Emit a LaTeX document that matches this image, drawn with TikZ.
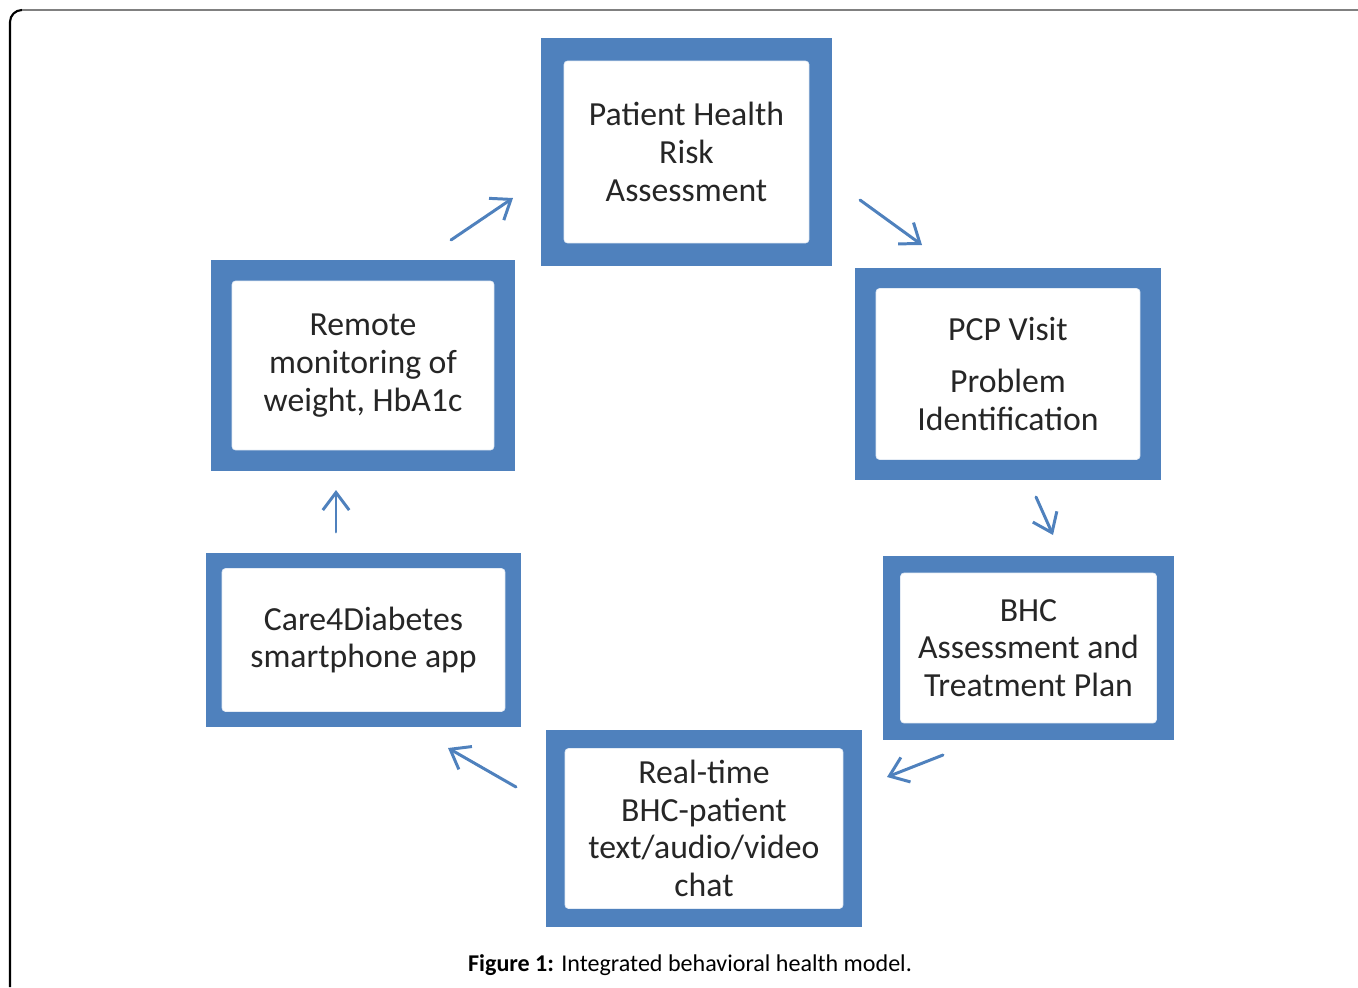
\documentclass[tikz,border=0pt]{standalone}
\usepackage{fontspec}
\setmainfont{Carlito}
\usetikzlibrary{arrows.meta}
\definecolor{boxblue}{HTML}{4F81BD}
\definecolor{framegray}{HTML}{808080}
\tikzset{
  outerbox/.style={fill=boxblue, inner sep=0pt},
  innerbox/.style={fill=white, draw=white!85!boxblue, line width=.4pt, rounded corners=2pt,
    inner sep=0pt, align=center, text=black!85, font=\fontsize{19.2}{21.5}\selectfont},
  cyclearrow/.style={draw=boxblue, line width=1.7pt, line cap=round,
    -{Straight Barb[length=10pt,width=15pt,line width=1.7pt]}}
}
\begin{document}
\begin{tikzpicture}[x=0.02cm,y=-0.02cm]
\useasboundingbox (0,0) rectangle (1358,987);
% frame
\draw[black, line width=1.2pt] (10,987) -- (10,22) arc[start angle=180,end angle=270,radius=12];
\draw[framegray, line width=1.2pt] (22,10) -- (1358,10);
% boxes
\node[outerbox, minimum width=5.82cm, minimum height=4.56cm] (risk) at (686.5,152) {};
\node[innerbox, minimum width=4.90cm, minimum height=3.64cm] (risktext) at (686.5,152)
  {Patient Health\\Risk\\Assessment};
\node[outerbox, minimum width=6.12cm, minimum height=4.24cm] (pcp) at (1008,374) {};
\node[innerbox, minimum width=5.28cm, minimum height=3.42cm] (pcptext) at (1008,374)
  {PCP Visit\\[8pt]Problem\\Identification};
\node[outerbox, minimum width=5.82cm, minimum height=3.68cm] (bhc) at (1028.5,648) {};
\node[innerbox, minimum width=5.12cm, minimum height=3.00cm] (bhctext) at (1028.5,648)
  {BHC\\Assessment and\\Treatment Plan};
\node[outerbox, minimum width=6.32cm, minimum height=3.94cm] (chat) at (704,828.5) {};
\node[innerbox, minimum width=5.56cm, minimum height=3.20cm] (chattext) at (704,828.5)
  {Real-time\\BHC-patient\\text/audio/video\\chat};
\node[outerbox, minimum width=6.30cm, minimum height=3.48cm] (app) at (363.5,640) {};
\node[innerbox, minimum width=5.66cm, minimum height=2.86cm] (apptext) at (363.5,640)
  {Care4Diabetes\\smartphone app};
\node[outerbox, minimum width=6.08cm, minimum height=4.22cm] (remote) at (363,365.5) {};
\node[innerbox, minimum width=5.24cm, minimum height=3.38cm] (remotetext) at (363,365.5)
  {Remote\\monitoring of\\weight, HbA1c};
% arrow ends
\coordinate (a1s) at (451,240); \coordinate (a1e) at (513,198);
\coordinate (a2s) at (860,200); \coordinate (a2e) at (922,245);
\coordinate (a3s) at (1036,497); \coordinate (a3e) at (1053,535);
\coordinate (a4s) at (943,755); \coordinate (a4e) at (887,777);
\coordinate (a5s) at (516,787); \coordinate (a5e) at (448,748);
\coordinate (a6s) at (336,532); \coordinate (a6e) at (336,490);
\draw[cyclearrow] (a1s) -- (a1e);
\draw[cyclearrow] (a2s) -- (a2e);
\draw[cyclearrow] (a3s) -- (a3e);
\draw[cyclearrow] (a4s) -- (a4e);
\draw[cyclearrow] (a5s) -- (a5e);
\draw[cyclearrow] (a6s) -- (a6e);
% caption
\node[font=\fontsize{13.7}{16}\selectfont, text=black] (caption) at (690,965)
  {\textbf{Figure 1:} Integrated behavioral health model.};
\end{tikzpicture}
\end{document}
